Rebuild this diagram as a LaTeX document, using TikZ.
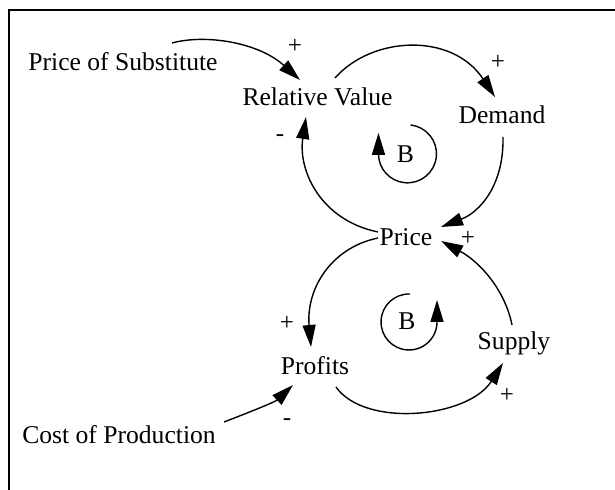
\documentclass[tikz,border=0pt]{standalone}
\usepackage{fontspec}
\setmainfont{Liberation Serif}
\usetikzlibrary{arrows.meta}

\begin{document}
\begin{tikzpicture}[x=0.5pt,y=-0.5pt,
  lbl/.style={font=\fontsize{12.8}{15}\selectfont, inner sep=0pt, anchor=base},
  sgn/.style={font=\fontsize{12.5}{15}\selectfont, inner sep=0pt},
  link/.style={line width=0.7pt, -{Triangle[length=11pt,width=6.5pt]}},
]
\useasboundingbox (0,0) rectangle (615,490);
% frame (left and top edges only)
\draw[line width=1.2pt] (9,490) -- (9,10) -- (615,10);

% variables
\node[lbl] (ps) at (123,71)    {Price of Substitute};
\node[lbl] (rv) at (317.5,106) {Relative Value};
\node[lbl] (dm) at (502,124)   {Demand};
\node[lbl] (pr) at (406,246)   {Price};
\node[lbl] (pf) at (315,375)   {Profits};
\node[lbl] (sp) at (514,350)   {Supply};
\node[lbl] (cp) at (119,444)   {Cost of Production};

% loop markers
\node[lbl] (b1) at (405.5,163) {B};
\node[lbl] (b2) at (407,330)   {B};

% polarity signs
\node[sgn] (s1) at (295,46)  {+};
\node[sgn] (s2) at (498,62)  {+};
\node[sgn] (s3) at (280,138) {-};
\node[sgn] (s4) at (287,323) {+};
\node[sgn] (s5) at (468,238) {+};
\node[sgn] (s6) at (507,395) {+};
\node[sgn] (s7) at (287,422) {-};

% causal links
\draw[link] ([shift={(49,-28)}]ps.base) .. controls +(33,-9) and +(-42,-38) .. ([shift={(-17.5,-26)}]rv.base);
\draw[link] ([shift={(17.5,-28)}]rv.base) .. controls +(37,-42) and +(-43,-65) .. ([shift={(-7,-27)}]dm.base);
\draw[link] ([shift={(1,13)}]dm.base) .. controls +(1,48) and +(39,-15) .. ([shift={(35,-19)}]pr.base);
\draw[link] ([shift={(-28,-14)}]pr.base) .. controls +(-58,-12) and +(-8,53) .. ([shift={(-11.5,11)}]rv.base);
\draw[link] ([shift={(-28,-8)}]pr.base) .. controls +(-48,10) and +(-5,-57) .. ([shift={(-4,-28)}]pf.base);
\draw[link] ([shift={(-2,-25)}]sp.base) .. controls +(-7,-35) and +(39,21) .. ([shift={(35,-5)}]pr.base);
\draw[link] ([shift={(21,12)}]pf.base) .. controls +(29,41) and +(-35,55) .. ([shift={(-11,13)}]sp.base);
\draw[link] ([shift={(105,-22)}]cp.base) .. controls +(26,-10) and +(-18,17) .. ([shift={(-22,10)}]pf.base);

% loop circles
\draw[link] ([shift={(5,-38)}]b1.base) arc[start angle=84, end angle=-180, radius=14.5pt] -- ++(0,-21);
\draw[link] ([shift={(3,-36)}]b2.base) arc[start angle=88, end angle=360, radius=14pt] -- ++(0,-22);
\end{tikzpicture}
\end{document}
